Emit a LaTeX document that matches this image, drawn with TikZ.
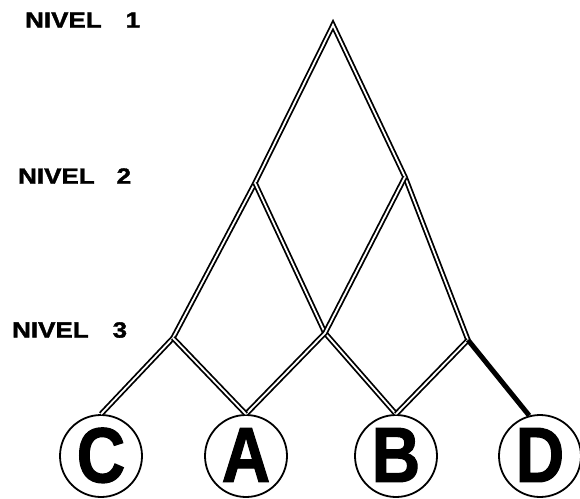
\documentclass[tikz,border=0pt]{standalone}
\usepackage{fontspec}
\setmainfont{Liberation Sans}
\newfontfamily\heavysans[FakeBold=1.6]{Liberation Sans Bold}
\begin{document}
\begin{tikzpicture}[x=1pt,y=-1pt,
  branch/.style={draw=black, line width=1.8pt, double=white, double distance=1.8pt, line join=miter},
  solidbranch/.style={draw=black, line width=5pt},
  leaf/.style={circle, draw=black, line width=1.8pt, minimum size=82pt, inner sep=0pt,
    font=\fontsize{78}{78}\selectfont\heavysans},
  level/.style={anchor=west, inner sep=0pt, font=\fontsize{22}{22}\selectfont\heavysans}
]
\useasboundingbox (0,0) rectangle (580,498);

% level labels
\node[level] (n1) at (25,20)  {\scalebox{1.18}[1]{NIVEL}\hspace{24pt}\scalebox{1.18}[1]{1}};
\node[level] (n2) at (18,176) {\scalebox{1.18}[1]{NIVEL}\hspace{22pt}\scalebox{1.18}[1]{2}};
\node[level] (n3) at (12,330) {\scalebox{1.18}[1]{NIVEL}\hspace{24pt}\scalebox{1.18}[1]{3}};

% branching points
\coordinate (top) at (333,25);
\coordinate (l2l) at (255,183);
\coordinate (l2r) at (405,177);
\coordinate (l3l) at (173,338);
\coordinate (mid) at (325,333);
\coordinate (l3r) at (468,340);

% leaves
\node[leaf] (C) at (101,456) {\raisebox{2pt}{\scalebox{0.86}[1]{C}}};
\node[leaf] (A) at (246,456) {\raisebox{2pt}{\scalebox{0.86}[1]{A}}};
\node[leaf] (B) at (396,456) {\raisebox{2pt}{\scalebox{0.86}[1]{B}}};
\node[leaf] (D) at (540,456) {\raisebox{2pt}{\scalebox{0.86}[1]{D}}};

% tree
\draw[branch] (C.north) -- (l3l) -- (l2l) -- (top) -- (l2r) -- (l3r);
\draw[branch] (l2l) -- (mid) -- (B.north);
\draw[branch] (l2r) -- (mid) -- (A.north);
\draw[branch] (l3l) -- (A.north);
\draw[branch] (l3r) -- (B.north);
\draw[solidbranch] (l3r) -- (D.105);
\end{tikzpicture}
\end{document}
